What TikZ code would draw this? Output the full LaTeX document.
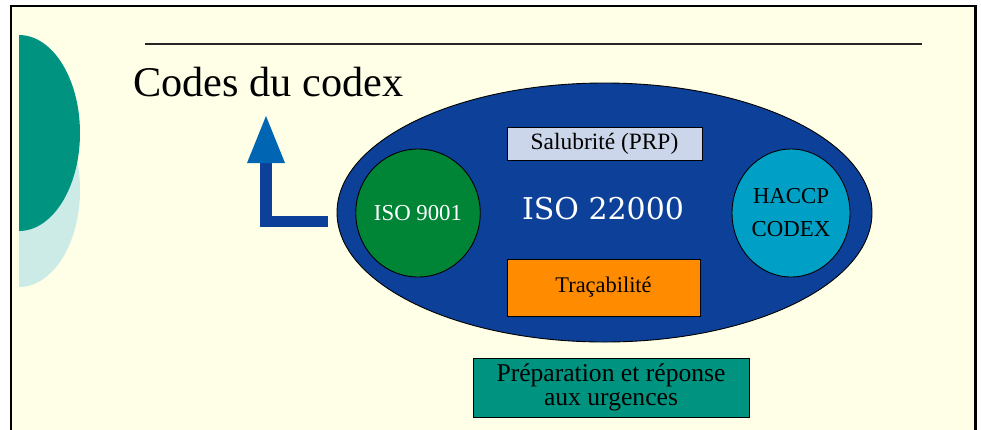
\documentclass[tikz,border=0pt]{standalone}
\usepackage{fontspec}
\setmainfont{Liberation Serif}
\newfontfamily\isofont{DejaVu Serif}
\usetikzlibrary{shapes.geometric}
\definecolor{bgcream}{RGB}{255,255,232}
\definecolor{darkteal}{RGB}{0,148,128}
\definecolor{lightteal}{RGB}{204,235,230}
\definecolor{bigblue}{RGB}{13,64,152}
\definecolor{isogreen}{RGB}{0,133,55}
\definecolor{haccpcyan}{RGB}{0,160,198}
\definecolor{salubfill}{RGB}{204,214,234}
\definecolor{tracorange}{RGB}{255,140,0}
\definecolor{prepteal}{RGB}{0,148,128}
\definecolor{arrowhead}{RGB}{0,102,179}
\tikzset{
  boxnode/.style={rectangle, draw=black, line width=0.9pt, inner sep=0pt, align=center},
  circnode/.style={ellipse, draw=black, line width=0.9pt, inner sep=0pt, align=center,
    minimum width=118pt, minimum height=128pt},
  labtext/.style={font=\fontsize{22.8}{33}\selectfont}
}
\begin{document}
\begin{tikzpicture}[x=1pt,y=-1pt]
\useasboundingbox (0,0) rectangle (981,429);
\fill[white] (0,0) rectangle (981,429);
\fill[bgcream] (11,6) rectangle (975,440);
% left decoration
\begin{scope}
  \clip (19,0) rectangle (200,420);
  \fill[lightteal] (19,190) ellipse [x radius=61, y radius=97];
  \fill[darkteal] (19,133) ellipse [x radius=61, y radius=98];
\end{scope}
% frame
\draw[line width=2.4pt, black] (11.2,440) -- (11.2,6.2) -- (975.3,6.2) -- (975.3,440);
% title rule
\draw[line width=1.2pt, black!85] (145,44) -- (922,44);
% title
\node[anchor=base west, inner sep=0pt, font=\fontsize{42.3}{50}\selectfont] (title) at (133,96) {Codes du codex};
% big ellipse
\node[ellipse, draw=black, line width=0.9pt, fill=bigblue, inner sep=0pt,
      minimum width=535pt, minimum height=259pt] (big) at (604.5,212.5) {};
\node[anchor=base, inner sep=0pt, text=white, font=\isofont\fontsize{30}{36}\selectfont] (iso22) at (603,219) {ISO 22000};
\node[circnode, fill=isogreen, text=white, labtext] (iso9001) at (418,213) {ISO 9001};
\node[circnode, fill=haccpcyan, labtext] (haccp) at (791,213) {HACCP\\CODEX};
\node[boxnode, fill=salubfill, minimum width=195pt, minimum height=33pt,
      font=\fontsize{23.4}{28}\selectfont] (salub) at (604.5,143.5) {Salubrité (PRP)};
\node[boxnode, fill=tracorange, minimum width=193pt, minimum height=57pt,
      font=\fontsize{22.4}{28}\selectfont] (trac) at (603.5,287.5) {Traçabilité};
\node[boxnode, fill=prepteal, minimum width=276pt, minimum height=59pt,
      font=\fontsize{25.6}{23.5}\selectfont] (prep) at (611,387.5) {Préparation et réponse\\aux urgences};
% arrow
\coordinate (arrstart) at (328,221.5);
\coordinate (arrbase) at (266,163);
\coordinate (arrtip) at (266,116);
\draw[line width=11.5pt, bigblue, line join=miter] (arrstart) -| (arrbase);
\fill[arrowhead] ([xshift=-19pt]arrbase) -- (arrtip) -- ([xshift=19pt]arrbase) -- cycle;
\end{tikzpicture}
\end{document}
